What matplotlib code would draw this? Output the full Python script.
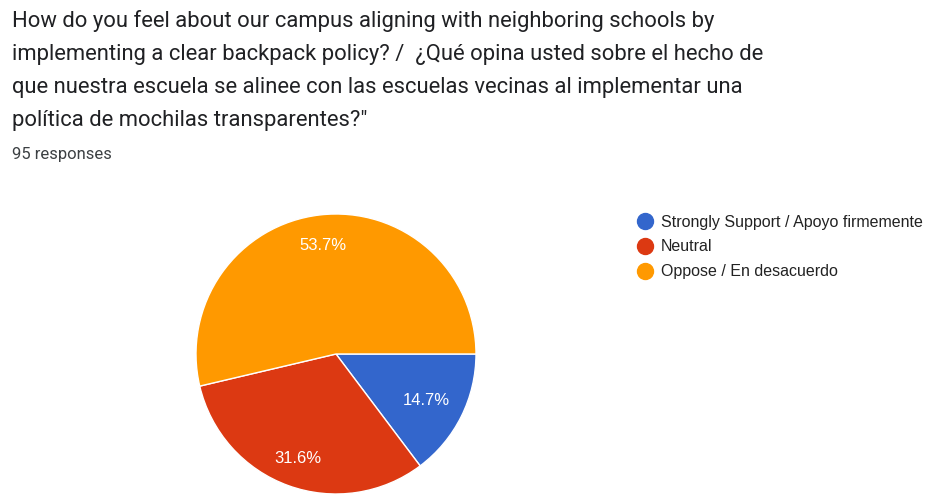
import numpy as np
import matplotlib.pyplot as plt

# Datos
etiquetas = ["Strongly Support / Apoyo firmemente", "Neutral", "Oppose / En desacuerdo"]
respuestas = [14, 30, 51]
colores = ["#3366cc", "#dc3912", "#ff9900"]
titulo = ["How do you feel about our campus aligning with neighboring schools by",
          "implementing a clear backpack policy? /  ¿Qué opina usted sobre el hecho de",
          "que nuestra escuela se alinee con las escuelas vecinas al implementar una",
          "política de mochilas transparentes?\""]
total = sum(respuestas)

W, H = 951, 502
fig = plt.figure(figsize=(W / 100, H / 100), dpi=100)

# Título
for i, linea in enumerate(titulo):
    fig.text(12 / W, 1 - (27 + 33 * i) / H, linea, family="Roboto", fontsize=15.8,
             color="#202124", va="baseline", ha="left")
fig.text(12 / W, 1 - 159 / H, f"{total} responses", family="Roboto", fontsize=12,
         color="#3c4043", va="baseline", ha="left")

# Gráfica de pastel
ax = fig.add_axes([196 / W, 1 - 495 / H, 280 / W, 280 / H])
cunas, textos, pcts = ax.pie(respuestas, colors=colores, startangle=0, counterclock=False,
                             autopct="%1.1f%%", radius=1,
                             wedgeprops=dict(edgecolor="white", linewidth=1),
                             textprops=dict(color="white", fontsize=12,
                                            family="Liberation Sans"))
# distancia de cada etiqueta al centro
distancias = [0.72, 0.79, 0.79]
for cuna, pct, d in zip(cunas, pcts, distancias):
    ang = np.deg2rad((cuna.theta1 + cuna.theta2) / 2)
    pct.set_position((d * np.cos(ang), d * np.sin(ang)))
ax.set_xlim(-1, 1)
ax.set_ylim(-1, 1)
ax.set_aspect("equal")
ax.axis("off")

# Leyenda
for i, (etq, col) in enumerate(zip(etiquetas, colores)):
    y = 1 - (222 + 25 * i) / H
    fig.add_artist(plt.Line2D([645 / W], [y], marker="o", markersize=11.5,
                              color=col, transform=fig.transFigure))
    fig.text(661 / W, y, etq, color="#222222", fontsize=11.5, ha="left", va="center",
             family="Liberation Sans")

fig.savefig("out.png", dpi=100)
